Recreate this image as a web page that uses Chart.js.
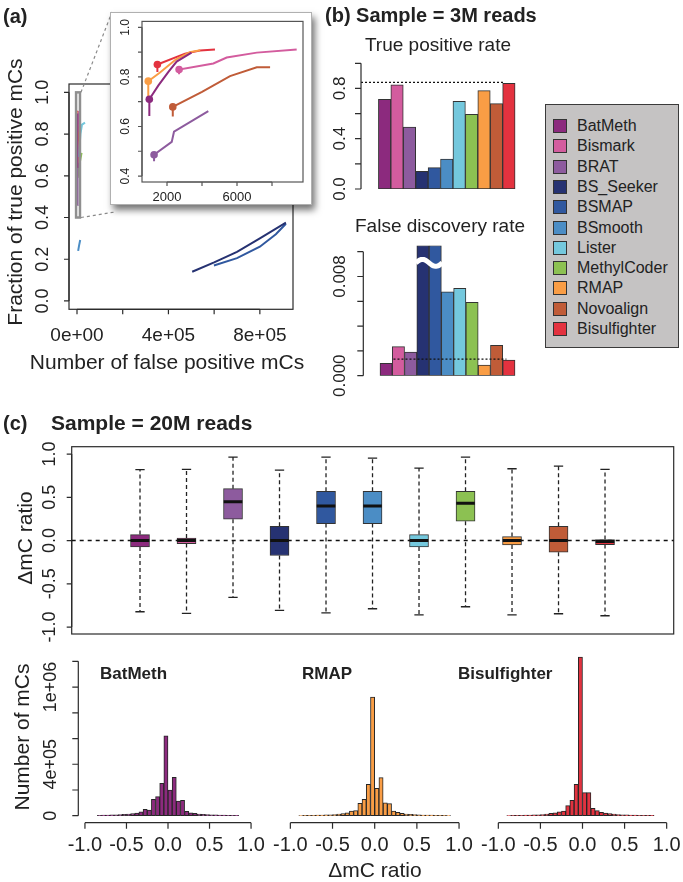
<!DOCTYPE html>
<html>
<head>
<meta charset="utf-8">
<script src="https://cdn.jsdelivr.net/npm/chart.js@4.4.0/dist/chart.umd.min.js"></script>
<style>
body { margin: 0; background: #fff; }
#page { position: relative; width: 683px; height: 882px; overflow: hidden; font-family: "Liberation Sans", Arial, sans-serif; color: #222; }
#page canvas { position: absolute; left: 0; top: 0; }
.txt { position: absolute; white-space: nowrap; line-height: 1; }
</style>
</head>
<body>
<div id="page"></div>
<script>
// ---- data ----
const tools = ['BatMeth', 'Bismark', 'BRAT', 'BS_Seeker', 'BSMAP', 'BSmooth', 'Lister', 'MethylCoder', 'RMAP', 'Novoalign', 'Bisulfighter'];
const toolColors = ['#8c2a7e', '#d35c9e', '#8d5b9e', '#263272', '#30589f', '#4b8dc5', '#74c8dd', '#8cc152', '#f99d45', '#c05c38', '#e3323f'];

// (a) false positives vs fraction of true positives, one list per tool
const rocFalsePos = [
  [990, 990, 1500, 2080, 2550, 3400],
  [2690, 2690, 4650, 5410, 7130, 9410],
  [1260, 1260, 2270, 2400, 4360],
  [504000, 600000, 700000, 800000, 914000],
  [599000, 700000, 800000, 870000, 914000],
  [5000, 9000, 14000],
  [8000, 15000, 22000, 35000],
  [3000, 10000, 20000],
  [930, 930, 1600, 2500, 3300, 3900],
  [2330, 2330, 4000, 5600, 7130, 7890],
  [1450, 1450, 3030, 3890, 4740]
];
const rocTruePos = [
  [0.642, 0.71, 0.765, 0.82, 0.862, 0.898],
  [0.811, 0.83, 0.854, 0.878, 0.898, 0.911],
  [0.46, 0.486, 0.538, 0.579, 0.662],
  [0.14, 0.185, 0.235, 0.3, 0.375],
  [0.17, 0.205, 0.26, 0.32, 0.37],
  [0.24, 0.265, 0.292],
  [0.69, 0.8, 0.845, 0.855],
  [0.59, 0.65, 0.71],
  [0.72, 0.783, 0.818, 0.87, 0.9, 0.908],
  [0.64, 0.679, 0.74, 0.803, 0.839, 0.839],
  [0.82, 0.85, 0.894, 0.907, 0.911]
];
const insetTools = [0, 1, 2, 8, 9, 10];
const insetMarker = 1;
const zoomBoxX = [-4000, 13000];
const zoomBoxY = [0.4, 1.0];

// (b) rates at 3M reads
const truePosRate = [0.714, 0.828, 0.493, 0.141, 0.170, 0.239, 0.698, 0.594, 0.782, 0.679, 0.841];
const falseDiscRate = [0.00099, 0.00234, 0.00191, 0.0105, 0.0105, 0.00677, 0.00704, 0.00591, 0.00086, 0.00245, 0.00126]; // BS_Seeker, BSMAP cut at the break
const tprRefLine = 0.848;
const fdrRefLine = 0.00133;
const fdrBreakAt = 0.0091;

// (c) boxplot of delta mC ratio at 20M reads
const boxLow = [-0.823, -0.842, -0.657, -0.807, -0.835, -0.788, -0.858, -0.765, -0.858, -0.846, -0.869];
const boxQ1 = [-0.074, -0.035, 0.246, -0.173, 0.196, 0.196, -0.074, 0.223, -0.05, -0.135, -0.046];
const boxMedian = [0, 0, 0.45, 0, 0.4, 0.4, 0, 0.43, 0, 0, -0.012];
const boxQ3 = [0.069, 0.03, 0.6, 0.165, 0.569, 0.569, 0.069, 0.569, 0.046, 0.165, 0.012];
const boxHigh = [0.819, 0.823, 0.965, 0.815, 0.965, 0.953, 0.838, 0.965, 0.83, 0.861, 0.823];

// (c) histograms, bin mids (width 0.05)
const histBins = [-0.875, -0.825, -0.775, -0.725, -0.675, -0.625, -0.575, -0.525, -0.475, -0.425, -0.375, -0.325,
  -0.275, -0.225, -0.175, -0.125, -0.075, -0.025, 0.025, 0.075, 0.125, 0.175, 0.225, 0.275,
  0.325, 0.375, 0.425, 0.475, 0.525, 0.575, 0.625, 0.675, 0.725, 0.775, 0.825, 0.875];
const histBatMeth = [0, 3000, 4000, 5000, 6000, 7000, 9000, 11000, 13000, 16000, 21000, 31000,
  49000, 44000, 127000, 148000, 252000, 621000, 200000, 299000, 114000, 119000, 34000, 23000,
  18000, 13000, 10000, 8000, 7000, 6000, 5000, 4000, 3500, 3000, 2000, 0];
const histRMAP = [1500, 2500, 3000, 3500, 4000, 5000, 6000, 7000, 9000, 12000, 17000, 23000,
  36000, 39000, 96000, 127000, 244000, 922000, 213000, 296000, 101000, 94000, 36000, 26000,
  18000, 13000, 10000, 8000, 6500, 5500, 4500, 4000, 3500, 3000, 2500, 1500];
const histBisulfighter = [1500, 2500, 3000, 3500, 4000, 5000, 6000, 7000, 9000, 12000, 18000, 23000,
  31000, 36000, 78000, 119000, 244000, 1234000, 179000, 179000, 57000, 39000, 26000, 21000,
  16000, 12000, 9000, 7000, 6000, 5000, 4000, 3500, 3000, 2500, 2000, 0];

// tick marks and labels
const mainYTicks = [0, 0.2, 0.4, 0.6, 0.8, 1.0];
const mainYLabels = ['0.0', '0.2', '0.4', '0.6', '0.8', '1.0'];
const mainXTicks = [0, 200000, 400000, 600000, 800000];
const mainXLabels = ['0e+00', '', '4e+05', '', '8e+05'];
const insetYTicks = [0.4, 0.5, 0.6, 0.7, 0.8, 0.9, 1.0];
const insetYLabels = ['0.4', '', '0.6', '', '0.8', '', '1.0'];
const insetXTicks = [2000, 4000, 6000, 8000];
const insetXLabels = ['2000', '', '6000', ''];
const tprTicks = [0, 0.2, 0.4, 0.6, 0.8, 1.0];
const tprLabels = ['0.0', '', '0.4', '', '0.8', ''];
const fdrTicks = [0, 0.002, 0.004, 0.006, 0.008, 0.010];
const fdrLabels = ['0.000', '', '', '', '0.008', ''];
const boxTicks = [-1, -0.5, 0, 0.5, 1];
const boxLabels = ['-1.0', '-0.5', '0.0', '0.5', '1.0'];
const histYTicks = [0, 200000, 400000, 600000, 800000, 1000000, 1200000];
const histYLabels = ['0', '', '4e+05', '', '', '1e+06', ''];
const histXTicks = [-1, -0.5, 0, 0.5, 1];
const histXLabels = ['-1.0', '-0.5', '0.0', '0.5', '1.0'];

// ---- layout ----
const W = 683, H = 882;
const page = document.getElementById('page');
const FONT = '"Liberation Sans", Arial, sans-serif';
const areas = {
  main: { l: 69, t: 84, r: 293, b: 309.3 },
  inset: { l: 142, t: 21.4, r: 303, b: 182 },
  tpr: { l: 361, t: 63.3, r: 521.3, b: 189 },
  fdr: { l: 363.3, t: 245.5, r: 520.9, b: 375.7 },
  box: { l: 71.7, t: 446.7, r: 673.7, b: 634 },
  h1: { l: 78.3, t: 641.8, r: 257.7, b: 822.7 },
  h2: { l: 283.6, t: 641.8, r: 465.8, b: 822.7 },
  h3: { l: 491.6, t: 641.8, r: 673.4, b: 822.7 }
};
const insetFrame = { l: 110, t: 12, w: 200, h: 191 };

// R style axes drawn with the chart's own scales
function rAxes(cfg) {
  return {
    id: 'rAxes',
    afterDraw(chart) {
      const ctx = chart.ctx, a = chart.chartArea;
      const sx = chart.scales.x, sy = chart.scales.y;
      ctx.save();
      ctx.strokeStyle = cfg.color || '#2b2b2b';
      ctx.fillStyle = '#222';
      ctx.lineWidth = 1.2;
      if (cfg.box) ctx.strokeRect(a.left, a.top, a.right - a.left, a.bottom - a.top);
      if (cfg.x) {
        const t = cfg.x.ticks, yb = a.bottom;
        ctx.beginPath();
        ctx.moveTo(sx.getPixelForValue(t[0]), yb);
        ctx.lineTo(sx.getPixelForValue(t[t.length - 1]), yb);
        t.forEach(v => { const p = sx.getPixelForValue(v); ctx.moveTo(p, yb); ctx.lineTo(p, yb + cfg.x.len); });
        ctx.stroke();
        ctx.font = cfg.x.font; ctx.textAlign = 'center'; ctx.textBaseline = 'middle';
        t.forEach((v, k) => { if (cfg.x.labels[k]) ctx.fillText(cfg.x.labels[k], sx.getPixelForValue(v), yb + cfg.x.gap); });
      }
      if (cfg.y) {
        const t = cfg.y.ticks, xl = a.left;
        ctx.beginPath();
        ctx.moveTo(xl, sy.getPixelForValue(t[0]));
        ctx.lineTo(xl, sy.getPixelForValue(t[t.length - 1]));
        t.forEach(v => { const p = sy.getPixelForValue(v); ctx.moveTo(xl, p); ctx.lineTo(xl - cfg.y.len, p); });
        ctx.stroke();
        ctx.font = cfg.y.font; ctx.textAlign = 'center'; ctx.textBaseline = 'middle';
        t.forEach((v, k) => {
          if (!cfg.y.labels[k]) return;
          ctx.save();
          ctx.translate(xl - cfg.y.gap, sy.getPixelForValue(v));
          ctx.rotate(-Math.PI / 2);
          ctx.fillText(cfg.y.labels[k], 0, 0);
          ctx.restore();
        });
      }
      if (cfg.extra) cfg.extra(chart, ctx, sx, sy, a);
      ctx.restore();
    }
  };
}

function makeChart(area, datasets, xr, yr, axes) {
  const cv = document.createElement('canvas');
  cv.width = W; cv.height = H;
  page.appendChild(cv);
  return new Chart(cv, {
    type: 'bar',
    data: { datasets: datasets },
    options: {
      responsive: false, animation: false, events: [],
      layout: { padding: { left: area.l, top: area.t, right: W - area.r, bottom: H - area.b } },
      scales: {
        x: { type: 'linear', min: xr[0], max: xr[1], display: false, offset: false },
        y: { type: 'linear', min: yr[0], max: yr[1], display: false }
      },
      plugins: { legend: { display: false }, tooltip: { enabled: false } }
    },
    plugins: [rAxes(axes)]
  });
}

function addText(str, x, y, font, align, rotate) {
  const d = document.createElement('div');
  d.className = 'txt';
  d.textContent = str;
  d.style.font = font + ' ' + FONT;
  d.style.left = x + 'px';
  d.style.top = y + 'px';
  if (rotate) d.style.transform = 'translate(-50%,-50%) rotate(-90deg)';
  else if (align === 'left') d.style.transform = 'translate(0,-50%)';
  else d.style.transform = 'translate(-50%,-50%)';
  page.appendChild(d);
}

function curve(i, width, markers) {
  return {
    type: 'line',
    data: rocFalsePos[i].map((x, k) => ({ x: x, y: rocTruePos[i][k] })),
    borderColor: toolColors[i], borderWidth: width, tension: 0, fill: false,
    pointRadius: rocFalsePos[i].map((x, k) => (markers && k === insetMarker) ? 3.8 : 0),
    pointBackgroundColor: toolColors[i], pointBorderWidth: 0
  };
}

// ---- (a) main ----
makeChart(areas.main, tools.map((t, i) => curve(i, 2, false)), [-35000, 945000], [-0.04, 1.04], {
  box: true,
  x: { ticks: mainXTicks, labels: mainXLabels, len: 5, gap: 26, font: '19px ' + FONT },
  y: { ticks: mainYTicks, labels: mainYLabels, len: 5, gap: 26, font: '18px ' + FONT },
  extra(chart, ctx, sx, sy) {
    const x0 = sx.getPixelForValue(zoomBoxX[0]), x1 = sx.getPixelForValue(zoomBoxX[1]);
    const y0 = sy.getPixelForValue(zoomBoxY[1]), y1 = sy.getPixelForValue(zoomBoxY[0]);
    ctx.strokeStyle = '#8f8f8f'; ctx.lineWidth = 2.5;
    ctx.strokeRect(x0, y0, x1 - x0, y1 - y0);
    ctx.setLineDash([3, 3]); ctx.lineWidth = 1.2; ctx.strokeStyle = '#8a8a8a';
    ctx.beginPath();
    ctx.moveTo(x1 + 1, y0); ctx.lineTo(insetFrame.l + 2, insetFrame.t);
    ctx.moveTo(x1 + 1, y1); ctx.lineTo(insetFrame.l + 5, insetFrame.t + insetFrame.h + 9);
    ctx.stroke();
  }
});

// inset frame + inset chart
const frame = document.createElement('div');
Object.assign(frame.style, {
  position: 'absolute', left: insetFrame.l + 'px', top: insetFrame.t + 'px',
  width: insetFrame.w + 'px', height: insetFrame.h + 'px', background: '#fff',
  border: '1px solid #b0b0b0', boxShadow: '3px 5px 7px rgba(0,0,0,0.55)'
});
page.appendChild(frame);

makeChart(areas.inset, insetTools.map(i => curve(i, 2, true)), [571, 9771], [0.376, 1.024], {
  box: true, color: '#555',
  x: { ticks: insetXTicks, labels: insetXLabels, len: 4, gap: 15, font: '13px ' + FONT },
  y: { ticks: insetYTicks, labels: insetYLabels, len: 4, gap: 16, font: '12px ' + FONT }
});

// ---- (b) bars ----
function rateBars(values) {
  return {
    type: 'bar',
    data: values.map((v, i) => ({ x: i + 1, y: v })),
    backgroundColor: toolColors, borderColor: '#333', borderWidth: 1, borderSkipped: false,
    barPercentage: 1, categoryPercentage: 1, order: 1
  };
}
function refLine(y, from, to) {
  return {
    type: 'line', data: [{ x: from, y: y }, { x: to, y: y }],
    borderColor: '#111', borderWidth: 1.2, borderDash: [2, 2], pointRadius: 0, order: 0
  };
}

makeChart(areas.tpr, [rateBars(truePosRate), refLine(tprRefLine, -0.9, 10.6)], [-0.9, 12], [0, 1], {
  y: { ticks: tprTicks, labels: tprLabels, len: 6, gap: 21, font: '17px ' + FONT }
});

makeChart(areas.fdr, [rateBars(falseDiscRate), refLine(fdrRefLine, 1.6, 10.8)], [-0.86, 11.98], [0, 0.0105], {
  y: { ticks: fdrTicks, labels: fdrLabels, len: 6, gap: 23, font: '17px ' + FONT },
  extra(chart, ctx, sx, sy) {
    const x0 = sx.getPixelForValue(3.5) - 1, x1 = sx.getPixelForValue(5.5) + 1, yc = sy.getPixelForValue(fdrBreakAt);
    ctx.strokeStyle = '#fff'; ctx.lineWidth = 5;
    ctx.beginPath();
    for (let k = 0; k <= 30; k++) {
      const f = k / 30, x = x0 + (x1 - x0) * f, y = yc - 3.5 * Math.sin(f * 2 * Math.PI);
      if (k) ctx.lineTo(x, y); else ctx.moveTo(x, y);
    }
    ctx.stroke();
  }
});

// ---- (c) boxplot ----
const whiskerPts = [], capPts = [], medianPts = [];
tools.forEach((t, i) => {
  const x = i + 1;
  whiskerPts.push({ x: x, y: boxQ3[i] }, { x: x, y: boxHigh[i] }, { x: x, y: null },
                  { x: x, y: boxQ1[i] }, { x: x, y: boxLow[i] }, { x: x, y: null });
  capPts.push({ x: x - 0.1, y: boxHigh[i] }, { x: x + 0.1, y: boxHigh[i] }, { x: x, y: null },
              { x: x - 0.1, y: boxLow[i] }, { x: x + 0.1, y: boxLow[i] }, { x: x, y: null });
  medianPts.push({ x: x - 0.2, y: boxMedian[i] }, { x: x + 0.2, y: boxMedian[i] }, { x: x, y: null });
});
makeChart(areas.box, [
  { type: 'line', data: medianPts, borderColor: '#111', borderWidth: 3, pointRadius: 0, spanGaps: false, order: 0 },
  { type: 'bar', data: tools.map((t, i) => ({ x: i + 1, y: [boxQ1[i], boxQ3[i]] })), backgroundColor: toolColors,
    borderColor: '#333', borderWidth: 1, borderSkipped: false, barThickness: 19, order: 1 },
  { type: 'line', data: capPts, borderColor: '#222', borderWidth: 1.3, pointRadius: 0, spanGaps: false, order: 2 },
  { type: 'line', data: whiskerPts, borderColor: '#222', borderWidth: 1.3, borderDash: [4, 3], pointRadius: 0, spanGaps: false, order: 3 }
], [-0.469, 12.477], [-1.08, 1.085], {
  box: true,
  y: { ticks: boxTicks, labels: boxLabels, len: 5, gap: 22, font: '18px ' + FONT },
  extra(chart, ctx, sx, sy, a) {
    const y0 = sy.getPixelForValue(0);
    ctx.setLineDash([4, 4]); ctx.lineWidth = 1.5; ctx.strokeStyle = '#111';
    ctx.beginPath(); ctx.moveTo(a.left, y0); ctx.lineTo(a.right, y0); ctx.stroke();
  }
});

// ---- (c) histograms ----
function histSet(counts, color) {
  return {
    type: 'bar', data: histBins.map((x, k) => ({ x: x, y: counts[k] })),
    backgroundColor: color, borderColor: '#262626', borderWidth: 1, borderSkipped: false,
    barPercentage: 1, categoryPercentage: 1
  };
}
const histX = { ticks: histXTicks, labels: histXLabels, len: 6, gap: 23, font: '20px ' + FONT };
makeChart(areas.h1, [histSet(histBatMeth, toolColors[0])], [-1.08, 1.08], [-54400, 1352000], {
  x: histX,
  y: { ticks: histYTicks, labels: histYLabels, len: 6, gap: 27, font: '18px ' + FONT }
});
makeChart(areas.h2, [histSet(histRMAP, toolColors[8])], [-1.08, 1.08], [-54400, 1352000], { x: histX });
makeChart(areas.h3, [histSet(histBisulfighter, toolColors[10])], [-1.08, 1.08], [-54400, 1352000], { x: histX });

// ---- texts ----
addText('(a)', 3, 16, 'bold 20px', 'left');
addText('Fraction of true positive mCs', 15, 192, '21px', 'center', true);
addText('Number of false positive mCs', 167, 362, '21px');
addText('(b) Sample = 3M reads', 325, 15, 'bold 20px', 'left');
addText('True positive rate', 438, 45, '19px');
addText('False discovery rate', 440, 226, '19px');
addText('(c)', 3, 423, 'bold 20px', 'left');
addText('Sample = 20M reads', 51, 423, 'bold 21px', 'left');
addText('\u0394mC ratio', 25, 538, '21px', 'center', true);
addText('Number of mCs', 21.7, 737, '21px', 'center', true);
addText('\u0394mC ratio', 375, 870, '21px');
addText(tools[0], 100, 674, 'bold 17px', 'left');
addText(tools[8], 302, 674, 'bold 17px', 'left');
addText(tools[10], 458, 674, 'bold 17px', 'left');

// ---- legend ----
const legend = document.createElement('div');
Object.assign(legend.style, {
  position: 'absolute', left: '545px', top: '104px', width: '134px', height: '244px',
  boxSizing: 'border-box', background: '#c5c3c3', border: '1px solid #3a3a3a'
});
tools.forEach((t, i) => {
  const cy = 21 + i * 20.3;
  const sw = document.createElement('div');
  Object.assign(sw.style, {
    position: 'absolute', left: '7px', top: (cy - 7) + 'px', width: '14px', height: '14px',
    boxSizing: 'border-box', background: toolColors[i], border: '1px solid #333'
  });
  legend.appendChild(sw);
  const lb = document.createElement('div');
  lb.className = 'txt';
  lb.textContent = t;
  Object.assign(lb.style, { left: '31px', top: cy + 'px', transform: 'translate(0,-50%)', font: '16px ' + FONT, color: '#222' });
  legend.appendChild(lb);
});
page.appendChild(legend);
</script>
</body>
</html>
